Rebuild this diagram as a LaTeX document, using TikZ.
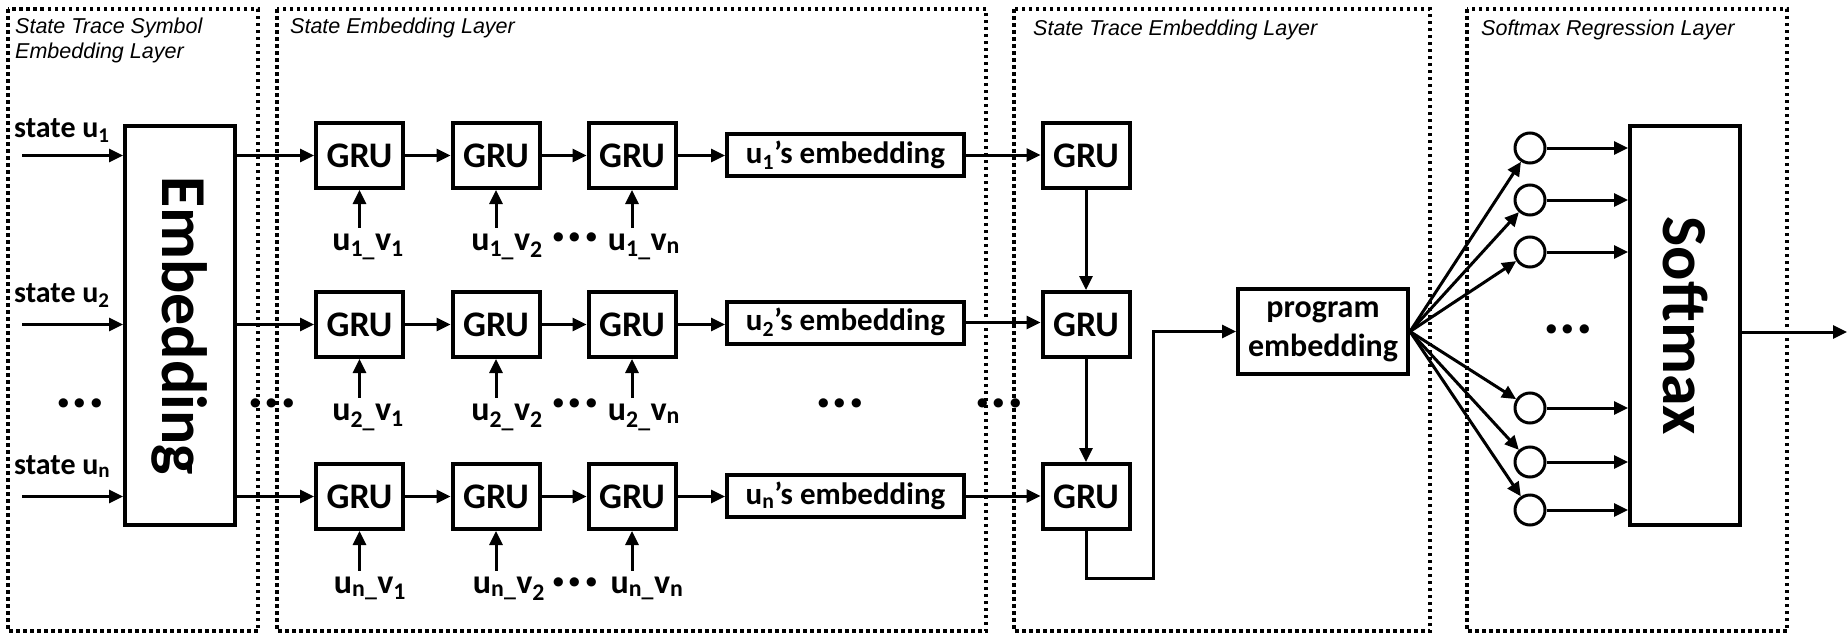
\documentclass[tikz,border=0pt]{standalone}
\usepackage{fontspec}
\usepackage{graphicx}
\setmainfont{Carlito}
\newfontfamily\titlefont{Liberation Sans}
\usetikzlibrary{arrows.meta}
\begin{document}
\begin{tikzpicture}[x=1pt,y=-1pt,
  layer/.style={line width=3.5pt, dash pattern=on 3.5pt off 3.5pt},
  ttl/.style={anchor=base west, inner sep=0, font=\titlefont\itshape\fontsize{21.5}{25}\selectfont},
  gru/.style={draw, line width=4pt, minimum width=87pt, minimum height=65pt, inner sep=0, font=\bfseries\fontsize{36}{40}\selectfont},
  embbox/.style={draw, line width=4pt, minimum width=237pt, minimum height=42pt, inner sep=0, font=\bfseries\fontsize{31}{36}\selectfont},
  bigbox/.style={draw, line width=4pt, minimum width=110pt, minimum height=399pt, inner sep=0, font=\bfseries\fontsize{64}{70}\selectfont},
  pebox/.style={draw, line width=4pt, minimum width=170pt, minimum height=85pt, inner sep=0, align=center, font=\bfseries\fontsize{32}{39}\selectfont},
  neuron/.style={draw, circle, line width=3pt, minimum size=30pt, inner sep=0},
  statelbl/.style={anchor=base west, inner sep=0, font=\bfseries\fontsize{30}{34}\selectfont},
  inlbl/.style={anchor=base, inner sep=0, text height=22pt, font=\bfseries\fontsize{34}{38}\selectfont},
  dotsn/.style={inner sep=0, font=\bfseries\fontsize{62}{66}\selectfont},
  arr/.style={line width=3pt, -{Triangle[length=14pt,width=13pt]}},
  ln/.style={line width=3pt}
]
\useasboundingbox (0,0) rectangle (1848,640);

% layer frames
\draw[layer] (8,9) rectangle (258,631);
\draw[layer] (277,9) rectangle (986,631);
\draw[layer] (1014,9) rectangle (1430,631);
\draw[layer] (1467,9) rectangle (1787,631);

\node[ttl] (t1a) at (15,33) {State Trace Symbol};
\node[ttl] (t1b) at (15,58) {Embedding Layer};
\node[ttl] (t2) at (290,33) {State Embedding Layer};
\node[ttl] (t3) at (1033,35) {State Trace Embedding Layer};
\node[ttl] (t4) at (1481,35) {Softmax Regression Layer};

% embedding layer
\node[bigbox] (emb) at (180,325.5) {\rotatebox{-90}{Embedding}};
\node[statelbl] (s1) at (14,137) {state u\textsubscript{1}};
\node[statelbl] (s2) at (14,302) {state u\textsubscript{2}};
\node[statelbl] (s3) at (14,474) {state u\textsubscript{n}};
\coordinate (in1) at (22,155.5);
\coordinate (in2) at (22,324.5);
\coordinate (in3) at (22,496.5);
\draw[arr] (in1) -- (in1 -| emb.west);
\draw[arr] (in2) -- (in2 -| emb.west);
\draw[arr] (in3) -- (in3 -| emb.west);
\node[dotsn] (d0) at (80,403) {...};
\node[dotsn] (d1) at (272,403) {...};

% state embedding layer GRUs
\node[gru] (g11) at (359.5,155.5) {GRU};
\node[gru] (g12) at (496,155.5) {GRU};
\node[gru] (g13) at (632,155.5) {GRU};
\node[gru] (g21) at (359.5,324.5) {GRU};
\node[gru] (g22) at (496,324.5) {GRU};
\node[gru] (g23) at (632,324.5) {GRU};
\node[gru] (g31) at (359.5,496.5) {GRU};
\node[gru] (g32) at (496,496.5) {GRU};
\node[gru] (g33) at (632,496.5) {GRU};

\node[embbox] (e1) at (845.5,155) {u\textsubscript{1}’s embedding};
\node[embbox] (e2) at (845.5,322.5) {u\textsubscript{2}’s embedding};
\node[embbox] (e3) at (845.5,496) {u\textsubscript{n}’s embedding};

\foreach \r in {1,2,3} {
  \draw[arr] (emb.east |- g\r1.west) -- (g\r1.west);
  \draw[arr] (g\r1) -- (g\r2);
  \draw[arr] (g\r2) -- (g\r3);
  \draw[arr] (g\r3) -- (g\r3 -| e\r.west);
}

% input labels
\node[inlbl] (l11) at (368,250) {u\textsubscript{1\_}v\textsubscript{1}};
\node[inlbl] (l12) at (507,250) {u\textsubscript{1\_}v\textsubscript{2}};
\node[inlbl] (l13) at (644,250) {u\textsubscript{1\_}v\textsubscript{n}};
\node[inlbl] (l21) at (368,420) {u\textsubscript{2\_}v\textsubscript{1}};
\node[inlbl] (l22) at (507,420) {u\textsubscript{2\_}v\textsubscript{2}};
\node[inlbl] (l23) at (644,420) {u\textsubscript{2\_}v\textsubscript{n}};
\node[inlbl] (l31) at (370,593) {u\textsubscript{n\_}v\textsubscript{1}};
\node[inlbl] (l32) at (509,593) {u\textsubscript{n\_}v\textsubscript{2}};
\node[inlbl] (l33) at (647,593) {u\textsubscript{n\_}v\textsubscript{n}};
\foreach \r in {1,2,3} {
  \foreach \c in {1,2,3} {
    \draw[arr] (l\r\c.north -| g\r\c.south) -- (g\r\c.south);
  }
}
\node[dotsn] (d2) at (575,237) {...};
\node[dotsn] (d3) at (575,403) {...};
\node[dotsn] (d4) at (575,582) {...};
\node[dotsn] (d5) at (840,403) {...};
\node[dotsn] (d6) at (999,403) {...};

% state trace embedding layer
\node[gru] (c1) at (1086,155.5) {GRU};
\node[gru] (c2) at (1086,324.5) {GRU};
\node[gru] (c3) at (1086,496.5) {GRU};
\draw[arr] (e1.east) -- (e1.east -| c1.west);
\draw[arr] (e2.east) -- (e2.east -| c2.west);
\draw[arr] (e3.east) -- (e3.east -| c3.west);
\draw[arr] (c1) -- (c2);
\draw[arr] (c2) -- (c3);
\node[pebox] (pe) at (1323,331.5) {program\\embedding};
\coordinate (turn) at (1153,578);
\draw[arr] (c3.south) |- (turn) |- (pe.west);

% softmax regression layer
\node[neuron] (n1) at (1530,148) {};
\node[neuron] (n2) at (1530,200) {};
\node[neuron] (n3) at (1530,252) {};
\node[neuron] (n4) at (1530,408) {};
\node[neuron] (n5) at (1530,462) {};
\node[neuron] (n6) at (1530,510) {};
\node[bigbox] (sm) at (1685,325.5) {\rotatebox{-90}{Softmax}};
\foreach \i in {1,...,6} {
  \draw[arr] (pe.east) -- (n\i);
  \draw[arr] (n\i) -- (n\i -| sm.west);
}
\node[dotsn] (d7) at (1568,329) {...};
\coordinate (out) at (1847,332);
\draw[arr] (sm.east |- out) -- (out);
\end{tikzpicture}
\end{document}
